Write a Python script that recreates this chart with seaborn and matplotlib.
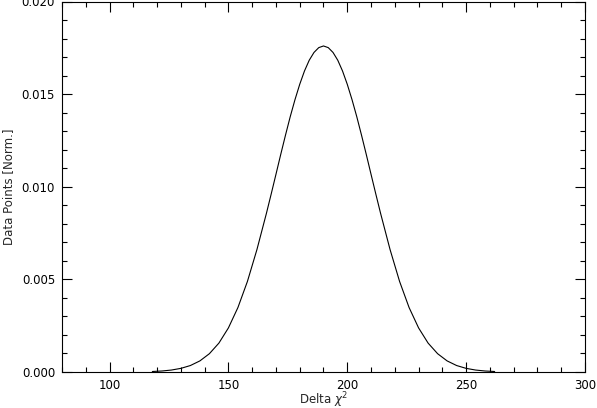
import numpy as np
import pandas as pd
import matplotlib
matplotlib.use('Agg')
import matplotlib.pyplot as plt
from matplotlib.ticker import MultipleLocator, FormatStrFormatter
import seaborn as sns

# values
delta_chi2 = [118, 122, 126, 130, 134, 138, 142, 146, 150, 154, 158, 162,
              166, 168, 170, 172, 174, 176, 178, 180, 182, 184, 186, 188,
              190, 192, 194, 196, 198, 200, 202, 204, 206, 208, 210, 212,
              214, 218, 222, 226, 230, 234, 238, 242, 246, 250, 254, 258, 262]
data_points = [0.000027, 0.000054, 0.000105, 0.000196, 0.000349, 0.000599,
               0.000988, 0.00156, 0.00238, 0.00348, 0.00489, 0.00661,
               0.00857, 0.00961, 0.01067, 0.01174, 0.01278, 0.01378,
               0.01470, 0.01553, 0.01625, 0.01683, 0.01725, 0.01751,
               0.01760, 0.01751, 0.01725, 0.01683, 0.01625, 0.01553,
               0.01470, 0.01378, 0.01278, 0.01174, 0.01067, 0.00961,
               0.00857, 0.00661, 0.00489, 0.00348, 0.00238, 0.00156,
               0.000988, 0.000599, 0.000349, 0.000196, 0.000105, 0.000054,
               0.000027]
x_ticks = [100, 150, 200, 250, 300]
y_ticks = [0.000, 0.005, 0.010, 0.015, 0.020]

df = pd.DataFrame({'delta': delta_chi2, 'points': data_points})

sns.set_style('ticks')
plt.rcParams['font.family'] = ['DejaVu Sans']
plt.rcParams['xtick.direction'] = 'in'
plt.rcParams['ytick.direction'] = 'in'

fig = plt.figure(figsize=(5.97, 4.08), dpi=100)
ax = fig.add_axes([62 / 597, 1 - 372 / 408, 523 / 597, 370.5 / 408])

sns.lineplot(data=df, x='delta', y='points', color='black', linewidth=0.8, ax=ax)

ax.set_xlim(80, 300)
ax.set_ylim(0, 0.020)
ax.set_xticks(x_ticks)
ax.set_yticks(y_ticks)
ax.xaxis.set_minor_locator(MultipleLocator(10))
ax.yaxis.set_minor_locator(MultipleLocator(0.001))
ax.yaxis.set_major_formatter(FormatStrFormatter('%.3f'))

ax.tick_params(which='both', top=True, right=True, color='black', width=0.8,
               labelsize=8.5, labelcolor='black')
ax.tick_params(which='major', length=7, pad=5)
ax.tick_params(which='minor', length=3.5)
for sp in ax.spines.values():
    sp.set_visible(True)
    sp.set_linewidth(0.8)
    sp.set_color('black')

ax.set_xlabel(r'Delta $\chi^2$', fontsize=8.5)
ax.set_ylabel('Data Points [Norm.]', fontsize=8.5)
ax.xaxis.set_label_coords(0.5, -0.05)
ax.yaxis.set_label_coords(-0.09, 0.5)

fig.savefig('out.png', dpi=100, facecolor='white')
